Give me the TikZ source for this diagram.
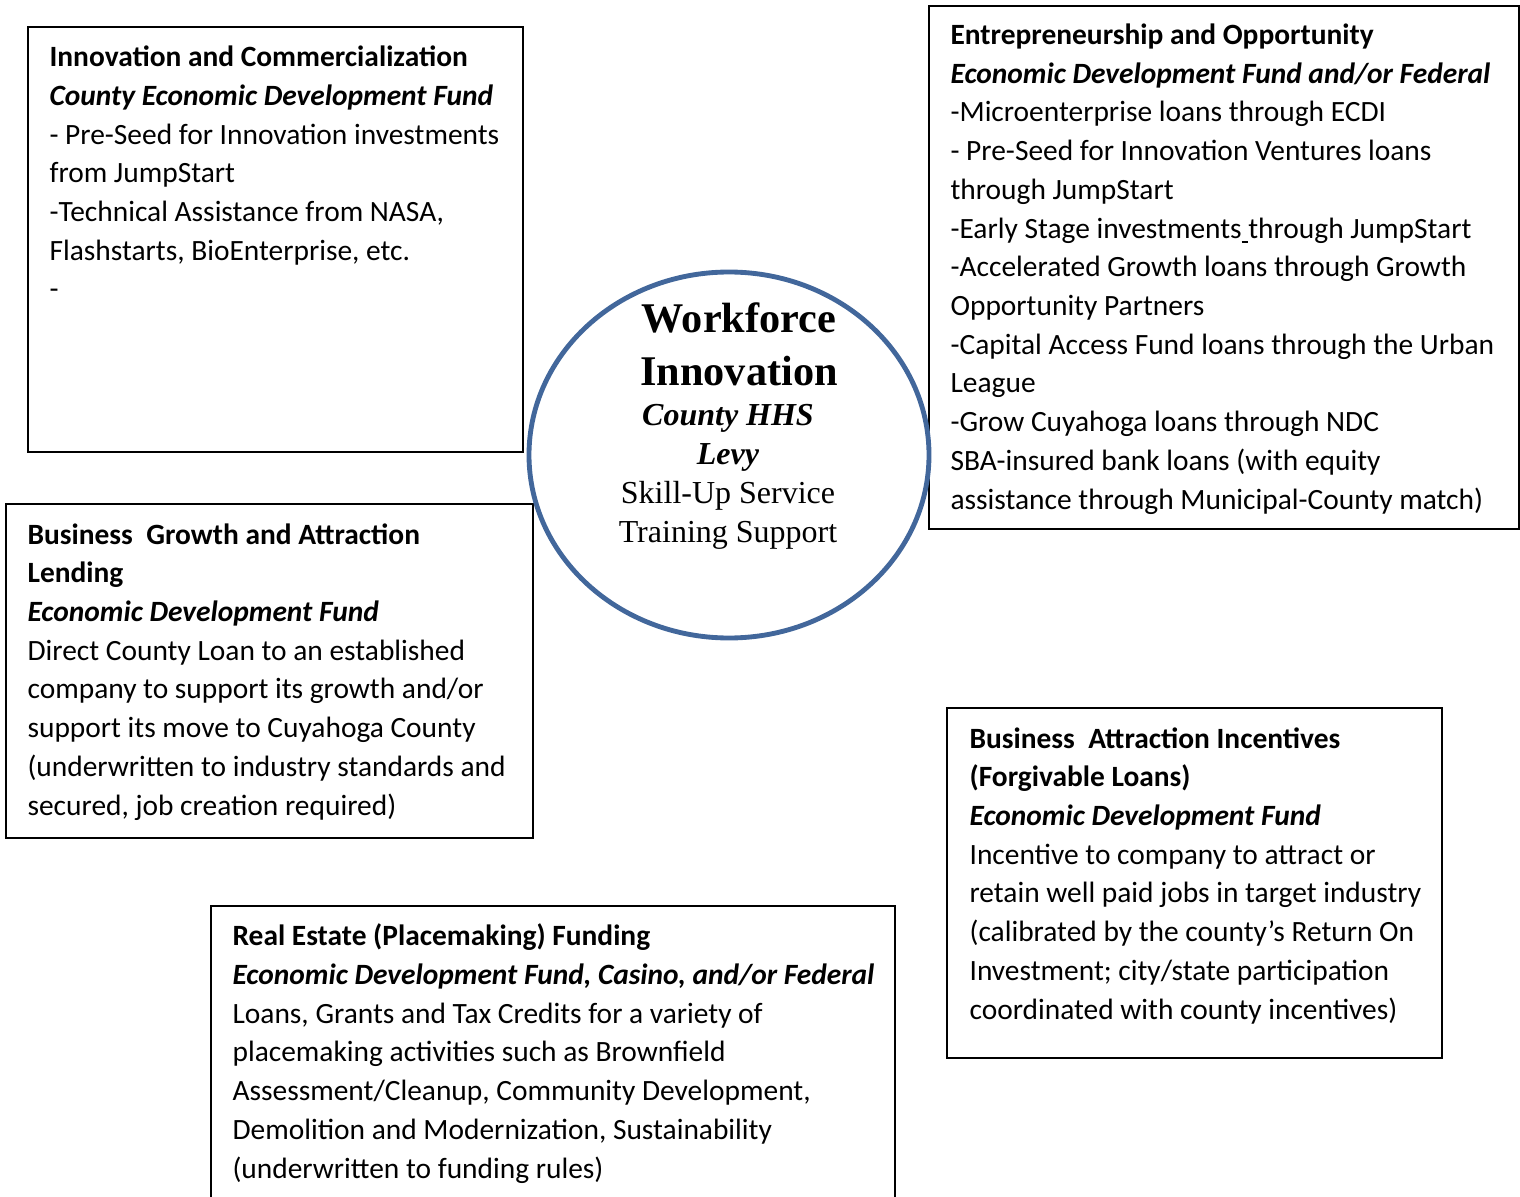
\documentclass[tikz,border=0pt]{standalone}
\usepackage{fontspec}
\setmainfont{Carlito}
\newfontfamily\hubfont{Liberation Serif}
\definecolor{hubblue}{RGB}{66,103,155}

\tikzset{
  fundbox/.style={draw=black, line width=0.7pt},
  % anchor is the baseline of the last line
  boxtext/.style={anchor=base west, align=left, inner sep=0pt,
    font=\fontsize{10.3pt}{13.55pt}\selectfont},
  hubtitle/.style={anchor=base, align=center, inner sep=0pt,
    font=\hubfont\bfseries\fontsize{14.8pt}{18.55pt}\selectfont},
  hubtext/.style={anchor=base, align=center, inner sep=0pt,
    font=\hubfont\fontsize{11.2pt}{13.65pt}\selectfont}
}

\begin{document}
\begin{tikzpicture}[x=0.35pt, y=-0.35pt]
  \clip (0,0) rectangle (1520,1197);

  % frames
  \draw[fundbox] (28,27) rectangle (523,452);
  \draw[fundbox] (929,6) rectangle (1519,529);
  \draw[fundbox] (6,504) rectangle (533,838);
  \draw[fundbox] (947,708) rectangle (1442,1058);
  \draw[fundbox] (211,906) rectangle (895,1230);

  % hub
  \draw[hubblue, line width=1.7pt] (729,455) ellipse [x radius=200, y radius=183];
  \node (hubname) [hubtitle] at (739,385) {Workforce\\Innovation};
  \node (hubfund) [hubtext] at (728,542)
    {\textbf{\textit{County HHS}}\\\textbf{\textit{Levy}}\\Skill-Up Service\\Training Support};

  % fund texts
  \node (innov) [boxtext] at (49,299)
    {\textbf{Innovation and Commercialization}\\
     \textbf{\textit{County Economic Development Fund}}\\
     - Pre-Seed for Innovation investments\\
     from JumpStart\\
     -Technical Assistance from NASA,\\
     Flashstarts, BioEnterprise, etc.\\
     -};
  \node (entre) [boxtext] at (950,509)
    {\textbf{Entrepreneurship and Opportunity}\\
     \textbf{\textit{Economic Development Fund and/or Federal}}\\
     -Microenterprise loans through ECDI\\
     - Pre-Seed for Innovation Ventures loans\\
     through JumpStart\\
     -Early Stage investments\underline{\ }through JumpStart\\
     -Accelerated Growth loans through Growth\\
     Opportunity Partners\\
     -Capital Access Fund loans through the Urban\\
     League\\
     -Grow Cuyahoga loans through NDC\\
     SBA-insured bank loans (with equity\\
     assistance through Municipal-County match)};
  \node (growth) [boxtext] at (27,815)
    {\textbf{Business\ \ Growth and Attraction}\\
     \textbf{Lending}\\
     \textbf{\textit{Economic Development Fund}}\\
     Direct County Loan to an established\\
     company to support its growth and/or\\
     support its move to Cuyahoga County\\
     (underwritten to industry standards and\\
     secured, job creation required)};
  \node (attract) [boxtext] at (969,1019)
    {\textbf{Business\ \ Attraction Incentives}\\
     \textbf{(Forgivable Loans)}\\
     \textbf{\textit{Economic Development Fund}}\\
     Incentive to company to attract or\\
     retain well paid jobs in target industry\\
     (calibrated by the county’s Return On\\
     Investment; city/state participation\\
     coordinated with county incentives)};
  \node (estate) [boxtext] at (232,1178)
    {\textbf{Real Estate (Placemaking) Funding}\\
     \textbf{\textit{Economic Development Fund, Casino, and/or Federal}}\\
     Loans, Grants and Tax Credits for a variety of\\
     placemaking activities such as Brownfield\\
     Assessment/Cleanup, Community Development,\\
     Demolition and Modernization, Sustainability\\
     (underwritten to funding rules)};
\end{tikzpicture}
\end{document}
